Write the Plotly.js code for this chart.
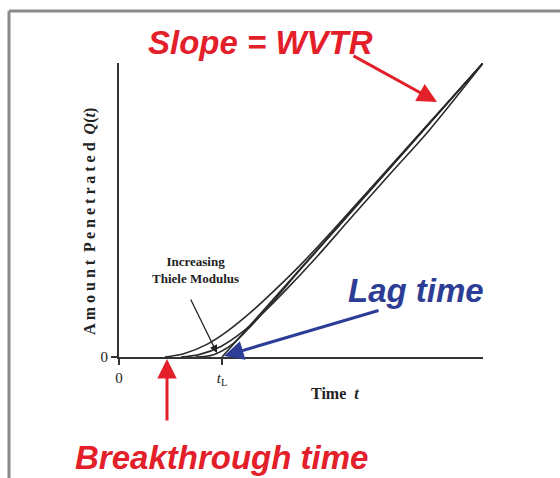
<!DOCTYPE html>
<html>
<head>
<meta charset="utf-8">
<script src="https://cdn.plot.ly/plotly-3.0.1.min.js"></script>
<style>html,body{margin:0;padding:0;background:#fff;}#chart{width:560px;height:478px;}</style>
</head>
<body>
<div id="chart"></div>
<script>
// Curves (time, amount)
const curveA_t = [1.26, 1.8, 2.4, 3.0, 3.6, 4.2, 5.0, 6.0, 7.0, 8.5, 10];
const curveA_q = [0, 0.12, 0.42, 0.9, 1.5, 2.18, 3.15, 4.48, 5.86, 7.93, 10];
const curveB_t = [1.7, 2.2, 2.8, 3.4, 4.0, 4.6, 5.4, 6.4, 7.5, 8.5, 10];
const curveB_q = [0, 0.08, 0.36, 0.86, 1.55, 2.3, 3.36, 4.77, 6.3, 7.68, 9.99];
const curveC_t = [2.1, 2.6, 3.1, 3.6, 4.2, 5.0, 6.0, 7.0, 8.5, 10];
const curveC_q = [0, 0.08, 0.42, 1.02, 1.85, 3.0, 4.4, 5.8, 7.9, 10];
const asym_t = [2.83, 10];
const asym_q = [0, 10];
const xTickVals = [0, 2.83];
const xTickText = ['0', '<i>t</i><sub>L</sub>'];
const yTickVals = [0];
const yTickText = ['0'];

const lineStyle = {color: '#2a2a2a', width: 1.6, shape: 'spline', smoothing: 1.0};
const traces = [
  {x: curveA_t, y: curveA_q, mode: 'lines', line: lineStyle, hoverinfo: 'skip'},
  {x: curveB_t, y: curveB_q, mode: 'lines', line: lineStyle, hoverinfo: 'skip'},
  {x: curveC_t, y: curveC_q, mode: 'lines', line: lineStyle, hoverinfo: 'skip'},
  {x: asym_t, y: asym_q, mode: 'lines', line: {color: '#2a2a2a', width: 1.6}, hoverinfo: 'skip'}
];

const red = '#e3202a';
const blue = '#2d3d95';
const bigFont = (c) => ({family: 'Liberation Sans, Arial, sans-serif', size: 33, color: c});
const serif = 'Liberation Serif, Times New Roman, serif';
const px = (v) => (v - 119) / 364;
const py = (v) => (357 - v) / 294;

const layout = {
  width: 560, height: 478,
  margin: {l: 119, r: 77, t: 63, b: 121},
  paper_bgcolor: '#ffffff', plot_bgcolor: '#ffffff',
  showlegend: false,
  xaxis: {
    range: [0, 10], showgrid: false, zeroline: false,
    showline: true, linecolor: '#333', linewidth: 2,
    ticks: 'outside', ticklen: 6, tickwidth: 1.5, tickcolor: '#333',
    tickvals: xTickVals, ticktext: xTickText,
    tickfont: {family: serif, size: 15, color: '#222'}
  },
  yaxis: {
    range: [0, 10], showgrid: false, zeroline: false,
    showline: true, linecolor: '#333', linewidth: 2,
    ticks: 'outside', ticklen: 6, tickwidth: 1.5, tickcolor: '#333',
    tickvals: yTickVals, ticktext: yTickText,
    tickfont: {family: serif, size: 15, color: '#222'}
  },
  shapes: [
    {type: 'line', xref: 'paper', yref: 'paper', x0: px(9), x1: px(560), y0: py(11), y1: py(11), line: {color: '#8a8a8e', width: 3}},
    {type: 'line', xref: 'paper', yref: 'paper', x0: px(9), x1: px(9), y0: py(11), y1: py(480), line: {color: '#8a8a8e', width: 3}}
  ],
  annotations: [
    {xref: 'paper', yref: 'paper', x: px(260), y: py(42), text: '<b><i>Slope = WVTR</i></b>', showarrow: false, font: bigFont(red), xanchor: 'center', yanchor: 'middle'},
    {xref: 'paper', yref: 'paper', x: px(416), y: py(290), text: '<b><i>Lag time</i></b>', showarrow: false, font: bigFont(blue), xanchor: 'center', yanchor: 'middle'},
    {xref: 'paper', yref: 'paper', x: px(221), y: py(457), text: '<b><i>Breakthrough time</i></b>', showarrow: false, font: bigFont(red), xanchor: 'center', yanchor: 'middle'},
    {xref: 'paper', yref: 'paper', x: px(335), y: py(393), text: '<b>Time  <i>t</i></b>', showarrow: false, font: {family: serif, size: 16, color: '#222'}, xanchor: 'center', yanchor: 'middle'},
    {xref: 'paper', yref: 'paper', x: px(90), y: py(222), text: '<b>A m o u n t  P e n e t r a t e d  <i>Q</i>(<i>t</i>)</b>', showarrow: false, textangle: -90, font: {family: serif, size: 16, color: '#222'}, xanchor: 'center', yanchor: 'middle'},
    {xref: 'paper', yref: 'paper', x: px(195), y: py(270), text: '<b>Increasing<br>Thiele Modulus</b>', showarrow: false, font: {family: serif, size: 13, color: '#222'}, xanchor: 'center', yanchor: 'middle'},
    // arrows
    {xref: 'paper', yref: 'paper', x: px(437), y: py(102), text: '', showarrow: true, arrowhead: 2, arrowsize: 1.3, arrowwidth: 3, arrowcolor: red, ax: -85, ay: -47, standoff: 0},
    {xref: 'paper', yref: 'paper', x: px(224), y: py(356), text: '', showarrow: true, arrowhead: 2, arrowsize: 1.3, arrowwidth: 3, arrowcolor: blue, ax: 156, ay: -46, standoff: 0},
    {xref: 'paper', yref: 'paper', x: px(167), y: py(359), text: '', showarrow: true, arrowhead: 2, arrowsize: 1.3, arrowwidth: 3, arrowcolor: red, ax: 0, ay: 63, standoff: 0},
    {xref: 'paper', yref: 'paper', x: px(217), y: py(353), text: '', showarrow: true, arrowhead: 2, arrowsize: 1.2, arrowwidth: 1.3, arrowcolor: '#222', ax: -27, ay: -55, standoff: 0}
  ]
};

Plotly.newPlot('chart', traces, layout, {displayModeBar: false, staticPlot: true});
</script>
</body>
</html>
